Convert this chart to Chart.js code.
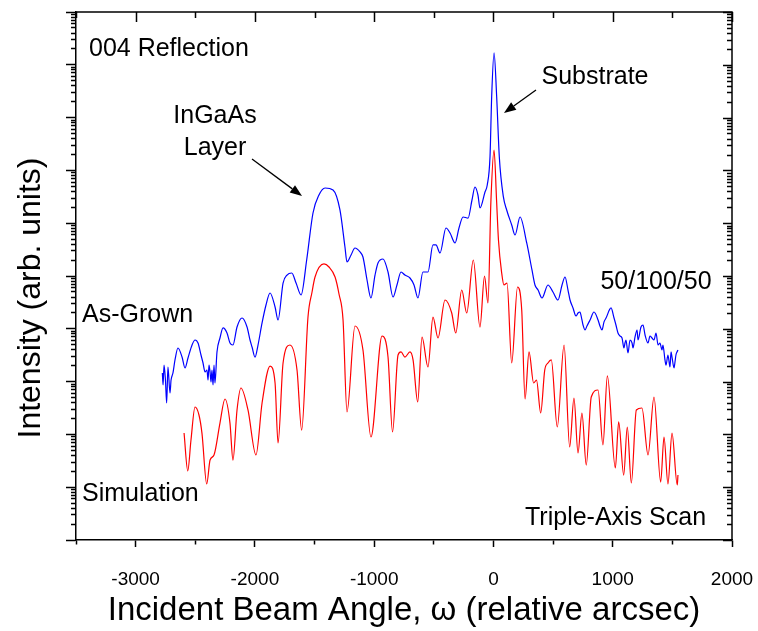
<!DOCTYPE html>
<html>
<head>
<meta charset="utf-8">
<script src="https://cdn.jsdelivr.net/npm/chart.js@4.4.1/dist/chart.umd.min.js"></script>
<style>
html,body{margin:0;padding:0;background:#fff;}
#wrap{width:758px;height:631px;}
</style>
</head>
<body>
<div id="wrap"><canvas id="c" width="758" height="631"></canvas></div>
<script>
// ---- Data ----
// As-Grown measurement (blue): incident beam angle (arcsec) and intensity (arb. units)
const asGrownX = [-2776,-2770,-2762,-2750,-2740,-2729,-2712,-2703,-2687,-2670,-2645,-2611,-2586,-2561,-2527,-2502,-2477,-2452,-2435,-2418,-2402,-2393,-2385,-2376,-2368,-2360,-2351,-2343,-2335,-2318,-2293,-2267,-2234,-2209,-2184,-2150,-2108,-2066,-2041,-2024,-1999,-1974,-1940,-1907,-1873,-1831,-1806,-1764,-1731,-1691,-1655,-1613,-1566,-1513,-1463,-1412,-1345,-1287,-1245,-1228,-1194,-1161,-1119,-1094,-1060,-1027,-993,-968,-926,-884,-842,-809,-775,-742,-700,-666,-633,-591,-549,-507,-482,-448,-398,-364,-322,-289,-255,-213,-180,-155,-130,-113,-71,-52,-29,-15,5,27,49,83,111,153,181,223,279,323,348,374,407,457,499,541,575,600,625,642,667,692,709,725,742,751,768,784,810,843,877,893,910,927,944,986,1011,1027,1044,1061,1078,1094,1103,1111,1128,1145,1162,1170,1187,1204,1212,1237,1254,1271,1296,1312,1329,1346,1363,1380,1396,1413,1421,1438,1447,1463,1480,1489,1497,1514,1522,1530,1539,1547];
const asGrownY = [1.46e3,8.63e2,2.06e3,1.07e3,3.93e2,1.89e3,6.08e2,1.07e3,1.46e3,2.57e3,4.33e3,2.92e3,1.81e3,2.80e3,4.93e3,6.14e3,5.38e3,3.19e3,2.25e3,1.52e3,1.66e3,1.07e3,2.06e3,1.52e3,9.83e2,1.66e3,8.63e2,2.06e3,9.40e2,3.64e3,6.70e3,1.04e4,8.32e3,5.38e3,4.93e3,1.08e4,1.60e4,1.08e4,6.14e3,4.52e3,2.92e3,4.93e3,1.29e4,2.82e4,4.76e4,2.59e4,1.47e4,7.36e4,1.04e5,1.14e5,7.36e4,4.37e4,2.01e5,1.56e6,3.42e6,4.64e6,4.25e6,1.78e6,3.54e5,1.84e5,2.50e5,3.39e5,2.85e5,2.29e5,8.40e4,3.83e4,1.04e5,1.76e5,2.10e5,1.19e5,4.00e4,6.76e4,1.19e5,1.04e5,9.16e4,6.76e4,3.83e4,1.19e5,1.19e5,3.87e5,3.87e5,2.73e5,8.11e5,6.52e5,4.22e5,8.11e5,1.31e6,1.25e6,2.75e6,4.85e6,3.42e6,1.94e6,3.90e6,5.29e6,1.79e7,2.46e8,1.69e9,2.49e8,1.82e7,3.18e6,1.78e6,9.25e5,5.98e5,1.31e6,4.22e5,1.30e5,6.76e4,5.43e4,3.83e4,6.76e4,4.98e4,3.51e4,6.76e4,9.57e4,5.43e4,3.51e4,2.48e4,1.75e4,1.99e4,2.08e4,1.47e4,1.18e4,9.49e3,1.13e4,1.47e4,2.08e4,1.47e4,1.13e4,9.49e3,1.35e4,1.60e4,2.48e4,1.60e4,1.18e4,8.32e3,7.31e3,6.70e3,4.33e3,5.38e3,6.14e3,3.48e3,6.14e3,5.38e3,4.33e3,7.00e3,9.49e3,6.14e3,1.08e4,1.18e4,7.63e3,5.38e3,7.31e3,6.70e3,6.14e3,8.32e3,4.93e3,5.38e3,3.97e3,4.93e3,2.57e3,2.06e3,3.19e3,1.89e3,3.64e3,2.92e3,1.81e3,2.35e3,3.19e3,3.64e3,3.97e3];
// Simulation (red)
const simX = [-2594,-2563,-2536,-2502,-2469,-2444,-2404,-2376,-2343,-2293,-2251,-2209,-2184,-2150,-2117,-2058,-1991,-1940,-1873,-1831,-1806,-1764,-1706,-1647,-1608,-1555,-1521,-1496,-1421,-1379,-1328,-1295,-1261,-1228,-1161,-1094,-1027,-934,-884,-846,-800,-775,-742,-700,-674,-635,-599,-549,-507,-465,-406,-350,-316,-266,-224,-169,-113,-75,-46,-21,5,26,42,69,88,114,153,202,237,265,298,337,361,396,430,457,485,535,592,639,675,709,742,778,820,877,918,955,1022,1050,1092,1122,1156,1198,1245,1296,1346,1402,1430,1463,1497,1541,1547];
const simY = [1.06e2,2.03e1,7.83e1,3.30e2,2.33e2,1.06e2,1.15e1,3.27e1,4.07e1,1.64e2,4.68e2,1.64e2,3.27e1,2.90e2,7.57e2,2.90e2,4.07e1,3.93e2,1.97e3,9.40e2,6.87e1,2.25e3,4.93e3,1.66e3,1.21e2,1.67e4,4.98e4,9.57e4,1.69e5,1.48e5,9.57e4,4.56e4,1.47e4,2.66e2,1.13e4,3.97e3,8.93e1,7.31e3,2.92e3,1.11e2,3.19e3,3.64e3,2.92e3,3.64e3,2.57e3,4.11e2,7.00e3,1.89e3,1.67e4,6.70e3,3.51e4,1.99e4,8.32e3,5.43e4,1.99e4,2.01e5,1.08e4,1.00e5,3.08e4,2.75e6,2.43e7,2.75e6,4.81e5,1.14e5,6.76e4,7.36e4,2.25e3,6.19e4,2.27e4,4.68e2,3.64e3,9.40e2,1.07e3,2.54e2,1.66e3,2.25e3,2.57e3,1.38e2,4.93e3,5.77e1,4.89e2,4.44e1,2.54e2,2.63e1,5.11e2,6.93e2,6.30e1,1.28e3,2.31e1,1.72e2,1.70e1,1.38e2,1.20e1,2.90e2,3.16e2,4.07e1,5.11e2,1.25e1,8.93e1,1.15e1,1.06e2,1.10e1,1.70e1];

// Axis settings
const xMin = -3500, xMax = 2000, xStep = 500;
const xTickLabels = ['-3000','-2000','-1000','0','1000','2000'];
const yMin = 1, yMax = 1e10;
const yMantissas = [1,2,3,4,5,6,7,8,9];

// ---- Helpers ----
const FONT = "'Liberation Sans', Arial, Helvetica, sans-serif";
const toPoints = (xs, ys) => xs.map((x, i) => ({x: x, y: ys[i]}));
const isDecade = v => Math.abs(Math.log10(v) - Math.round(Math.log10(v))) < 1e-9;

const annotations = {
  id: 'annotations',
  afterDraw(chart) {
    const {ctx, chartArea: a, scales: {x, y}} = chart;
    ctx.save();
    // frame: top and right
    ctx.strokeStyle = '#000';
    ctx.lineWidth = 1.5;
    ctx.beginPath();
    ctx.moveTo(a.left, a.top);
    ctx.lineTo(a.right, a.top);
    ctx.lineTo(a.right, a.bottom);
    ctx.stroke();
    // mirrored ticks (inward on top, inward on right)
    ctx.beginPath();
    x.ticks.forEach(t => {
      const px = Math.round(x.getPixelForValue(t.value)) + 0.5;
      const len = (t.value % 1000 === 0) ? 10 : 6;
      ctx.moveTo(px, a.top);
      ctx.lineTo(px, a.top + len);
    });
    y.ticks.forEach(t => {
      const py = Math.round(y.getPixelForValue(t.value)) + 0.5;
      const len = isDecade(t.value) ? 9 : 5;
      ctx.moveTo(a.right, py);
      ctx.lineTo(a.right - len, py);
    });
    ctx.stroke();

    // texts
    ctx.fillStyle = '#000';
    ctx.font = '25px ' + FONT;
    ctx.textBaseline = 'alphabetic';
    ctx.textAlign = 'left';
    ctx.fillText('004 Reflection', 89, 56);
    ctx.fillText('As-Grown', 82, 322);
    ctx.fillText('Simulation', 82, 501);
    ctx.fillText('Triple-Axis Scan', 525, 525);
    ctx.textAlign = 'center';
    ctx.fillText('InGaAs', 215, 123);
    ctx.fillText('Layer', 215, 155);
    ctx.fillText('Substrate', 595, 84);
    ctx.fillText('50/100/50', 656, 289);

    // arrows
    const arrow = (x0, y0, x1, y1) => {
      const ang = Math.atan2(y1 - y0, x1 - x0);
      const hl = 12, hw = 4.5;
      const bx = x1 - hl * Math.cos(ang), by = y1 - hl * Math.sin(ang);
      ctx.beginPath();
      ctx.lineWidth = 1.3;
      ctx.moveTo(x0, y0);
      ctx.lineTo(bx, by);
      ctx.stroke();
      ctx.beginPath();
      ctx.moveTo(x1, y1);
      ctx.lineTo(bx + hw * Math.sin(ang), by - hw * Math.cos(ang));
      ctx.lineTo(bx - hw * Math.sin(ang), by + hw * Math.cos(ang));
      ctx.closePath();
      ctx.fill();
    };
    arrow(252, 159, 302, 196);
    arrow(536, 90, 504, 113);

    // y-axis title
    ctx.save();
    ctx.translate(40, 298);
    ctx.rotate(-Math.PI / 2);
    ctx.font = '32px ' + FONT;
    ctx.textAlign = 'center';
    ctx.textBaseline = 'alphabetic';
    ctx.fillText('Intensity (arb. units)', 0, 0);
    ctx.restore();
    ctx.restore();
  }
};

Chart.defaults.font.family = FONT;
Chart.defaults.color = '#000';

new Chart(document.getElementById('c'), {
  type: 'line',
  data: {
    datasets: [
      {
        label: 'As-Grown',
        data: toPoints(asGrownX, asGrownY),
        borderColor: '#0000ff',
        borderWidth: 1.2,
        pointRadius: 0,
        cubicInterpolationMode: 'monotone',
        fill: false
      },
      {
        label: 'Simulation',
        data: toPoints(simX, simY),
        borderColor: '#ff0000',
        borderWidth: 1.2,
        pointRadius: 0,
        cubicInterpolationMode: 'monotone',
        fill: false
      }
    ]
  },
  options: {
    responsive: false,
    animation: false,
    devicePixelRatio: 1,
    layout: {padding: {left: 0, right: 26, top: 12, bottom: 0}},
    plugins: {legend: {display: false}, tooltip: {enabled: false}},
    scales: {
      x: {
        type: 'linear',
        position: 'bottom',
        min: xMin,
        max: xMax,
        afterBuildTicks: s => {
          const t = [];
          for (let v = xMin; v <= xMax; v += xStep) t.push({value: v});
          s.ticks = t;
        },
        afterFit: s => { s.height = 91; s.paddingLeft = 0; s.paddingRight = 0; },
        ticks: {
          autoSkip: false,
          maxRotation: 0,
          padding: 21,
          font: {size: 19},
          color: '#000',
          callback: v => {
            const i = [-3000,-2000,-1000,0,1000,2000].indexOf(v);
            return i >= 0 ? xTickLabels[i] : '';
          }
        },
        grid: {
          drawOnChartArea: false,
          tickLength: 7,
          tickColor: '#000',
          tickWidth: 1.5,
          tickBorderDash: ctx => (ctx.tick && ctx.tick.value % 1000 !== 0) ? [4, 30] : []
        },
        border: {color: '#000', width: 1.5},
        title: {
          display: true,
          text: 'Incident Beam Angle, \u03c9 (relative arcsec)',
          font: {size: 33},
          color: '#000',
          padding: {top: 0, bottom: 0}
        }
      },
      y: {
        type: 'logarithmic',
        position: 'left',
        min: yMin,
        max: yMax,
        afterBuildTicks: s => {
          const t = [];
          for (let e = 0; e < 10; e++) yMantissas.forEach(m => t.push({value: m * Math.pow(10, e)}));
          t.push({value: yMax});
          s.ticks = t;
        },
        afterFit: s => { s.width = 76; s.paddingTop = 0; s.paddingBottom = 0; },
        ticks: {display: false, autoSkip: false},
        grid: {
          drawOnChartArea: false,
          tickLength: 10,
          tickColor: '#000',
          tickWidth: 1.5,
          tickBorderDash: ctx => (ctx.tick && !isDecade(ctx.tick.value)) ? [0, 5, 5, 0] : []
        },
        border: {color: '#000', width: 1.5}
      }
    }
  },
  plugins: [annotations]
});
</script>
</body>
</html>
